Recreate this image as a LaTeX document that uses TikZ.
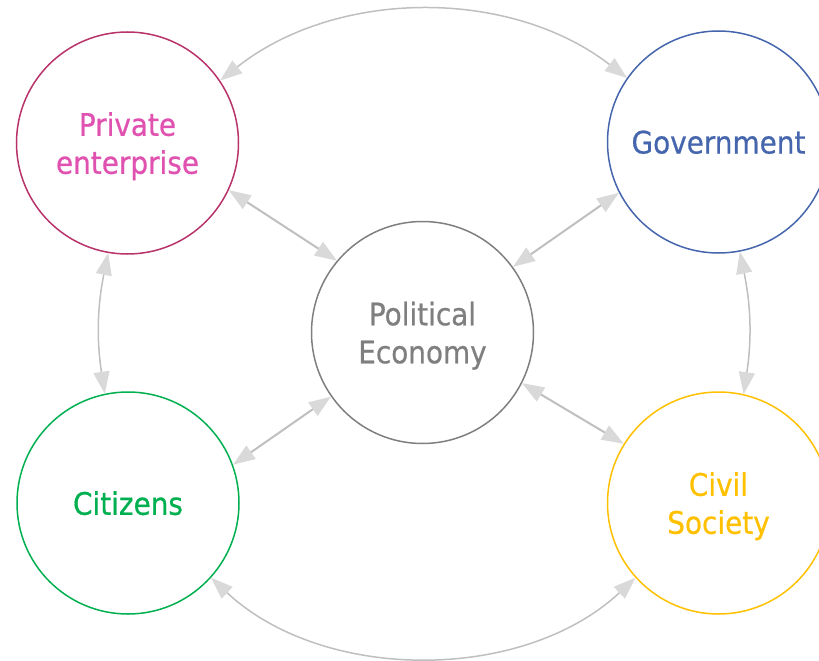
\documentclass[tikz,border=0pt]{standalone}
\usepackage{fontspec}
\setmainfont{DejaVu Sans Condensed}[FakeBold=0.6]
\usetikzlibrary{arrows.meta}
\definecolor{privline}{HTML}{B8336A}
\definecolor{privtext}{HTML}{E052B0}
\definecolor{govblue}{HTML}{4565AD}
\definecolor{polgrey}{HTML}{7F7F7F}
\definecolor{citgreen}{HTML}{00B050}
\definecolor{civyellow}{HTML}{FFC000}
\definecolor{linkgrey}{HTML}{BFBFBF}
\definecolor{tipgrey}{HTML}{D9D9D9}

\begin{document}
\begin{tikzpicture}[x=1pt,y=-1pt,
  actor/.style={circle,draw,line width=1.5pt,minimum size=222pt,inner sep=0pt,align=center,text depth=0pt,font=\fontsize{31}{38}\selectfont},
  link/.style={draw=linkgrey,line width=2pt,arrows={Triangle[length=22pt,width=16pt,color=tipgrey]-Triangle[length=22pt,width=16pt,color=tipgrey]}},
  arc/.style={link,line width=1.5pt}]
                \useasboundingbox (0,0) rectangle (819,661);
                \node[actor,draw=privline,text=privtext] (priv) at (127.5,143) {Private\\enterprise};
                \node[actor,draw=govblue,text=govblue] (gov) at (718.5,142) {Government};
                \node[actor,draw=polgrey,text=polgrey] (pol) at (422.5,332.5) {Political\\Economy};
                \node[actor,draw=citgreen,text=citgreen] (cit) at (128,503) {Citizens};
                \node[actor,draw=civyellow,text=civyellow] (civ) at (718.5,503) {Civil\\Society};
                \draw[link] (priv.-25) -- (pol.140);
                \draw[link] (gov.207) -- (pol.36);
                \draw[link] (pol.215) -- (cit.20);
                \draw[link] (pol.-27) -- (civ.148);
                \draw[arc] (priv.34) to[bend left=38, looseness=0.93] (gov.145);
                \draw[arc] (cit.-42) to[bend right=43, looseness=0.93] (civ.-138);
                \draw[arc] (priv.260) to[bend right=10] (cit.102);
                \draw[arc] (gov.-79) to[bend left=10] (civ.77);
            \end{tikzpicture}
\end{document}
